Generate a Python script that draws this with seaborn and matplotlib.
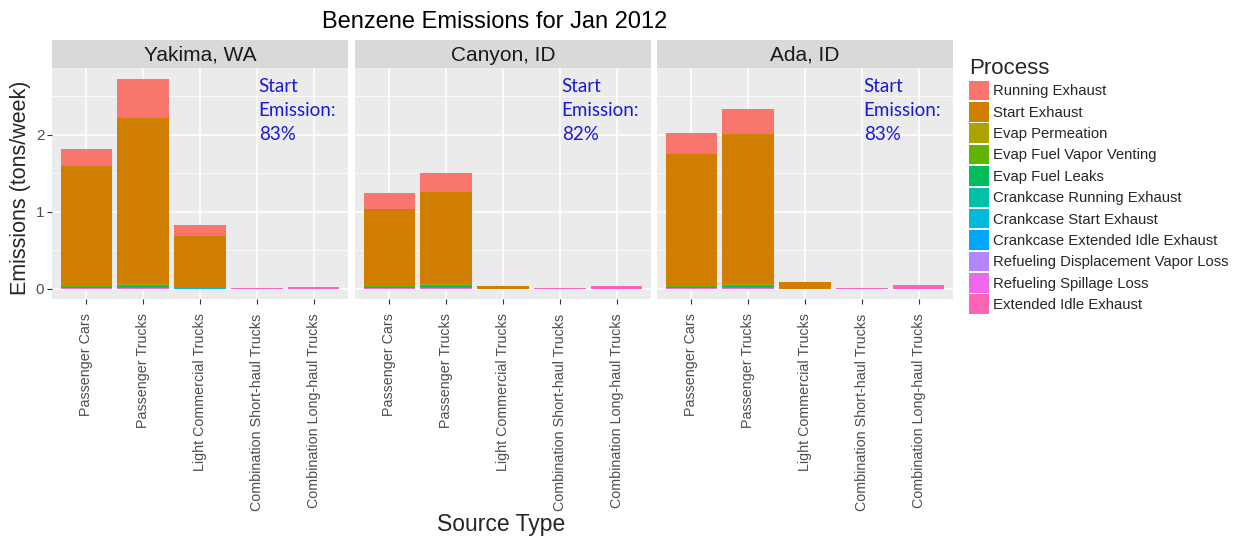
import numpy as np
import pandas as pd
import matplotlib
matplotlib.use("Agg")
import matplotlib.pyplot as plt
from matplotlib.patches import Patch
import seaborn as sns

# ---------------- data ----------------
locations = ["Yakima, WA", "Canyon, ID", "Ada, ID"]
source_types = ["Passenger Cars", "Passenger Trucks", "Light Commercial Trucks",
                "Combination Short-haul Trucks", "Combination Long-haul Trucks"]
processes = ["Running Exhaust", "Start Exhaust", "Evap Permeation", "Evap Fuel Vapor Venting",
             "Evap Fuel Leaks", "Crankcase Running Exhaust", "Crankcase Start Exhaust",
             "Crankcase Extended Idle Exhaust", "Refueling Displacement Vapor Loss",
             "Refueling Spillage Loss", "Extended Idle Exhaust"]
annot_pct = ["83%", "82%", "83%"]

# values in tons/week, order: location-major (Yakima x5, Canyon x5, Ada x5)
running_exhaust   = [0.22, 0.50, 0.15, 0.003, 0.0,   0.20, 0.25, 0.0,   0.003, 0.0,   0.28, 0.33, 0.0,   0.003, 0.0]
start_exhaust     = [1.554, 2.17, 0.67, 0.003, 0.0,  1.004, 1.20, 0.04, 0.003, 0.0,   1.714, 1.95, 0.085, 0.003, 0.0]
evap_permeation   = [0.004, 0.006, 0.002, 0.003, 0.0, 0.004, 0.006, 0.0, 0.003, 0.0,  0.004, 0.006, 0.0,  0.003, 0.0]
evap_venting      = [0.006, 0.010, 0.002, 0.0, 0.0,  0.006, 0.010, 0.0,  0.0, 0.0,    0.006, 0.010, 0.0,  0.0, 0.0]
evap_leaks        = [0.012, 0.018, 0.003, 0.0, 0.0,  0.012, 0.018, 0.0,  0.0, 0.0,    0.012, 0.018, 0.0,  0.0, 0.0]
crank_running     = [0.002, 0.003, 0.001, 0.001, 0.0, 0.002, 0.003, 0.0, 0.001, 0.0,  0.002, 0.003, 0.0,  0.001, 0.0]
crank_start       = [0.006, 0.010, 0.001, 0.0, 0.0,  0.006, 0.010, 0.0,  0.0, 0.0,    0.006, 0.010, 0.0,  0.0, 0.0]
crank_ext_idle    = [0.0, 0.0, 0.0, 0.0, 0.0,        0.0, 0.0, 0.0, 0.0, 0.0,         0.0, 0.0, 0.0, 0.0, 0.0]
refuel_displace   = [0.004, 0.006, 0.001, 0.0, 0.0,  0.004, 0.006, 0.0,  0.0, 0.0,    0.004, 0.006, 0.0,  0.0, 0.0]
refuel_spillage   = [0.002, 0.003, 0.0, 0.0, 0.0,    0.002, 0.003, 0.0,  0.0, 0.0,    0.002, 0.003, 0.0,  0.0, 0.0]
ext_idle_exhaust  = [0.0, 0.0, 0.0, 0.002, 0.022,    0.0, 0.0, 0.0, 0.002, 0.03,      0.0, 0.0, 0.0, 0.002, 0.052]

series = [running_exhaust, start_exhaust, evap_permeation, evap_venting, evap_leaks,
          crank_running, crank_start, crank_ext_idle, refuel_displace, refuel_spillage,
          ext_idle_exhaust]

colors = ["#F8766D", "#D07E00", "#AEA200", "#64B200", "#00BD5C", "#00C1A7",
          "#00BADE", "#00A6FF", "#B385FF", "#EF67EB", "#FF63B6"]

rows = []
for p, vals in zip(processes, series):
    for i, v in enumerate(vals):
        rows.append({"location": locations[i // 5], "source": source_types[i % 5],
                     "process": p, "value": v})
df = pd.DataFrame(rows)

# cumulative heights: first process on top, last at the bottom
df["pidx"] = df["process"].map({p: i for i, p in enumerate(processes)})
df = df.sort_values(["location", "source", "pidx"], ascending=[True, True, False])
df["cum"] = df.groupby(["location", "source"])["value"].cumsum()

# ---------------- figure ----------------
sns.set_theme(style="darkgrid")
plt.rcParams["font.family"] = ["Liberation Sans", "DejaVu Sans"]

W, H = 1236, 538
fig = plt.figure(figsize=(W / 100, H / 100), dpi=100)

def fx(px):
    return px / W

def fy(py):
    return 1 - py / H

panel_x = [(52, 348), (355, 651), (657, 953)]
ptop, pbot = 68, 299
strip_top = 40

for k, loc in enumerate(locations):
    x0, x1 = panel_x[k]
    ax = fig.add_axes([fx(x0), fy(pbot), fx(x1 - x0), (pbot - ptop) / H])
    ax.set_facecolor("#EBEBEB")
    sub = df[df["location"] == loc]
    for pi, p in enumerate(processes):
        d = sub[sub["process"] == p]
        sns.barplot(data=d, x="source", y="cum", order=source_types, color=colors[pi],
                    width=0.9, linewidth=0, saturation=1, errorbar=None, ax=ax)
    ax.set_xlim(-0.6, 4.6)
    ax.set_ylim(-0.135, 2.87)
    ax.set_yticks([0, 1, 2])
    ax.set_yticks([0.5, 1.5, 2.5], minor=True)
    ax.grid(which="major", color="white", linewidth=1.1)
    ax.grid(which="minor", axis="y", color="white", linewidth=0.55)
    ax.set_axisbelow(True)
    for s in ax.spines.values():
        s.set_visible(False)
    ax.tick_params(axis="both", which="major", length=3.5, width=0.8, color="#333333",
                   labelcolor="#4D4D4D", labelsize=10.3, pad=7, bottom=True, left=True)
    ax.tick_params(axis="both", which="minor", length=0)
    ax.set_xticks(range(5))
    ax.set_xticklabels(source_types, rotation=90, va="top", ha="center")
    if k == 0:
        ax.set_yticklabels(["0", "1", "2"], fontsize=11)
        ax.tick_params(axis="y", pad=2)
    else:
        ax.tick_params(axis="y", labelleft=False, length=0)
    ax.set_xlabel("")
    ax.set_ylabel("")
    ax.text(3.03, 2.74, "Start\nEmission:\n" + annot_pct[k], color="#1A1AD6",
            fontsize=13.5, va="top", ha="left", linespacing=1.5, family=["Lato", "DejaVu Sans"])

    # strip
    sax = fig.add_axes([fx(x0), fy(ptop), fx(x1 - x0), (ptop - strip_top) / H])
    sax.set_facecolor("#D9D9D9")
    sax.grid(False)
    sax.set_xticks([])
    sax.set_yticks([])
    for s in sax.spines.values():
        s.set_visible(False)
    sax.text(0.5, 0.45, loc, transform=sax.transAxes, ha="center", va="center",
             fontsize=15, color="#1A1A1A")

fig.text(fx(495), fy(22), "Benzene Emissions for Jan 2012", ha="center", va="center",
         fontsize=17, color="black")
fig.text(fx(501), fy(525), "Source Type", ha="center", va="center", fontsize=16.5)
fig.text(fx(21), fy(188), "Emissions (tons/week)", ha="center", va="center",
         rotation=90, fontsize=15.5)

handles = [Patch(facecolor=c, edgecolor="none", label=p) for c, p in zip(colors, processes)]
leg = fig.legend(handles=handles, title="Process", loc="upper left",
                 bbox_to_anchor=(fx(963), fy(52)), frameon=False, fontsize=10.7,
                 title_fontsize=16, handlelength=1.35, handleheight=1.65,
                 labelspacing=0.12, handletextpad=0.3, borderaxespad=0)
leg._legend_box.align = "left"

fig.savefig("out.png", dpi=100)
